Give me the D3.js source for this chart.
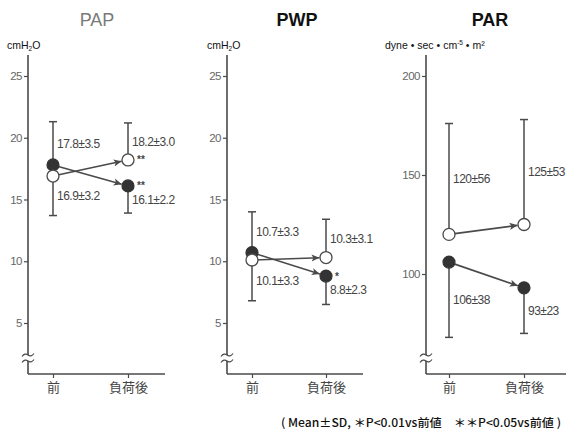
<!DOCTYPE html>
<html><head><meta charset="utf-8">
<script src="https://cdn.jsdelivr.net/npm/d3@7"></script>
<style>
body{margin:0;background:#fff;}
svg{display:block;}
</style></head>
<body>
<svg id="c" width="566" height="440"></svg>
<script>
const categories = ["前", "負荷後"];
const papFilled = [17.8, 16.1], papFilledSD = [3.5, 2.2];
const papOpen = [16.9, 18.2], papOpenSD = [3.2, 3.0];
const pwpFilled = [10.7, 8.8], pwpFilledSD = [3.3, 2.3];
const pwpOpen = [10.1, 10.3], pwpOpenSD = [3.3, 3.1];
const parFilled = [106, 93], parFilledSD = [38, 23];
const parOpen = [120, 125], parOpenSD = [56, 53];
const pressureTicks = [5, 10, 15, 20, 25];
const parTicks = [100, 150, 200];
const papFilledSig = ["", "**"], papOpenSig = ["", "**"];
const pwpFilledSig = ["", "*"], pwpOpenSig = ["", ""];
const parFilledSig = ["", ""], parOpenSig = ["", ""];

const svg = d3.select("#c");
const gray = "#4a4a4a";
const numFont = "'Liberation Sans',Arial,sans-serif";
const cjk = "'Noto Sans CJK JP',sans-serif";

const panels = [
  {title:"PAP", titleColor:"#7a7a7a", titleWeight:"normal", tx:97, unit:"cmH", unitSub:"2", unitTail:"O", ux:7, uSize:10.5,
   ax:28, cx:[53,128], xEnd:165, domain:[0.87,26.7], ticks:pressureTicks,
   filled:papFilled, fsd:papFilledSD, open:papOpen, osd:papOpenSD, fsig:papFilledSig, osig:papOpenSig, fmt:d3.format(".1f")},
  {title:"PWP", titleColor:"#111", titleWeight:"bold", tx:297, unit:"cmH", unitSub:"2", unitTail:"O", ux:207, uSize:10.5,
   ax:227, cx:[252,326], xEnd:363, domain:[0.87,26.7], ticks:pressureTicks,
   filled:pwpFilled, fsd:pwpFilledSD, open:pwpOpen, osd:pwpOpenSD, fsig:pwpFilledSig, osig:pwpOpenSig, fmt:d3.format(".1f")},
  {title:"PAR", titleColor:"#111", titleWeight:"bold", tx:490, unit:"dyne • sec • cm", unitSup:"-5", unitTail:" • m²", ux:385, uSize:10.5,
   ax:426, cx:[449,524], xEnd:570, domain:[49.5,210.6], ticks:parTicks,
   filled:parFilled, fsd:parFilledSD, open:parOpen, osd:parOpenSD, fsig:parFilledSig, osig:parOpenSig, fmt:d3.format("d")}
];

const defs = svg.append("defs");
defs.append("marker").attr("id","arr").attr("viewBox","0 0 10 10").attr("refX",10).attr("refY",5)
  .attr("markerWidth",8).attr("markerHeight",8).attr("markerUnits","userSpaceOnUse").attr("orient","auto")
  .append("path").attr("d","M0,0.5 L10,5 L0,9.5 L2.5,5 Z").attr("fill",gray);

const yTop = 55, yBot = 374, R = 6;

function label(g, xx, yy, txt) {
  g.append("text").attr("x",xx).attr("y",yy).attr("dy","0.35em")
    .attr("font-family",numFont).attr("font-size",12).attr("letter-spacing",-0.5).attr("fill","#444").text(txt);
}

panels.forEach(p => {
  const g = svg.append("g");
  const y = d3.scaleLinear().domain(p.domain).range([yBot, yTop]);
  const x = d3.scalePoint().domain(categories).range(p.cx);

  g.append("text").attr("x",p.tx).attr("y",26).attr("text-anchor","middle")
    .attr("font-family","'Liberation Sans',Arial,sans-serif").attr("font-size",18)
    .attr("font-weight",p.titleWeight).attr("fill",p.titleColor).text(p.title);

  const u = g.append("text").attr("x",p.ux).attr("y",49).attr("font-family","'Liberation Sans',Arial,sans-serif")
    .attr("font-size",p.uSize).attr("fill","#111").attr("xml:space","preserve");
  u.append("tspan").text(p.unit);
  if (p.unitSub) u.append("tspan").attr("font-size",6.5).attr("dy",2).text(p.unitSub);
  if (p.unitSup) u.append("tspan").attr("font-size",6.5).attr("dy",-4).text(p.unitSup);
  u.append("tspan").attr("dy", p.unitSub ? -2 : 4).text(p.unitTail);

  const yAxis = d3.axisLeft(y).tickValues(p.ticks).tickSize(4).tickSizeOuter(0);
  const ya = g.append("g").attr("transform",`translate(${p.ax},0)`).call(yAxis);
  ya.select(".domain").remove();
  ya.selectAll(".tick line").attr("stroke",gray).attr("stroke-width",1.2);
  ya.selectAll(".tick text").attr("font-family",numFont).attr("font-size",11.5).attr("letter-spacing",-0.5).attr("fill","#666").attr("dx",1);
  g.append("line").attr("x1",p.ax).attr("x2",p.ax).attr("y1",yTop).attr("y2",yBot)
    .attr("stroke",gray).attr("stroke-width",1.6);

  g.append("rect").attr("x",p.ax-2).attr("y",355).attr("width",4).attr("height",6).attr("fill","#fff");
  [355, 361].forEach(by => {
    g.append("path").attr("d",`M${p.ax-6},${by+1.5} q3,-4 6,-1.5 t6,-1.5`)
      .attr("fill","none").attr("stroke",gray).attr("stroke-width",1.2);
  });

  const xAxis = d3.axisBottom(x).tickSize(4).tickSizeOuter(0);
  const xa = g.append("g").attr("transform",`translate(0,${yBot})`).call(xAxis);
  xa.select(".domain").remove();
  xa.selectAll(".tick line").attr("stroke",gray).attr("stroke-width",1.2);
  xa.selectAll(".tick text").attr("font-family",cjk).attr("font-size",13).attr("fill","#444").attr("dy","0.85em");
  g.append("line").attr("x1",p.ax).attr("x2",p.xEnd).attr("y1",yBot).attr("y2",yBot)
    .attr("stroke",gray).attr("stroke-width",1.6);

  categories.forEach((c, i) => {
    const fHigh = p.filled[i] >= p.open[i];
    const hi = fHigh ? {m:p.filled[i], sd:p.fsd[i]} : {m:p.open[i], sd:p.osd[i]};
    const lo = fHigh ? {m:p.open[i], sd:p.osd[i]} : {m:p.filled[i], sd:p.fsd[i]};
    const cx = x(c);
    const top = hi.m + hi.sd, bot = lo.m - lo.sd;
    g.append("line").attr("x1",cx).attr("x2",cx).attr("y1",y(hi.m)).attr("y2",y(top))
      .attr("stroke",gray).attr("stroke-width",1.5);
    g.append("line").attr("x1",cx).attr("x2",cx).attr("y1",y(lo.m)).attr("y2",y(bot))
      .attr("stroke",gray).attr("stroke-width",1.5);
    [top, bot].forEach(v => g.append("line").attr("x1",cx-4).attr("x2",cx+4).attr("y1",y(v)).attr("y2",y(v))
      .attr("stroke",gray).attr("stroke-width",1.5));
    label(g, cx+4, y((hi.m+top)/2), `${p.fmt(hi.m)}±${p.fmt(hi.sd)}`);
    label(g, cx+4, y((lo.m+bot)/2), `${p.fmt(lo.m)}±${p.fmt(lo.sd)}`);
  });

  [p.open, p.filled].forEach(vals => {
    const x1 = x(categories[0]), y1 = y(vals[0]), x2 = x(categories[1]), y2 = y(vals[1]);
    const L = Math.hypot(x2-x1, y2-y1);
    const ex = x2 - (x2-x1)/L*(R+0.5), ey = y2 - (y2-y1)/L*(R+0.5);
    g.append("line").attr("x1",x1).attr("y1",y1).attr("x2",ex).attr("y2",ey)
      .attr("stroke",gray).attr("stroke-width",1.6).attr("marker-end","url(#arr)");
  });

  categories.forEach((c, i) => {
    g.append("circle").attr("cx",x(c)).attr("cy",y(p.filled[i])).attr("r",R)
      .attr("fill","#333").attr("stroke","#333").attr("stroke-width",1.2);
    g.append("circle").attr("cx",x(c)).attr("cy",y(p.open[i])).attr("r",R)
      .attr("fill","#fff").attr("stroke",gray).attr("stroke-width",1.3);
  });

  categories.forEach((c, i) => {
    [[p.fsig[i], p.filled[i]], [p.osig[i], p.open[i]]].forEach(([s, v]) => {
      if (s) g.append("text").attr("x",x(c)+R+3).attr("y",y(v)).attr("dy","0.35em")
        .attr("font-family",numFont).attr("font-size",10).attr("font-weight","bold").attr("fill","#444").text(s);
    });
  });
});

svg.append("text").attr("x",281).attr("y",427).attr("font-family",cjk).attr("font-size",11.5)
  .attr("font-weight",500).attr("fill","#111").attr("xml:space","preserve")
  .attr("textLength",280).attr("lengthAdjust","spacingAndGlyphs")
  .text("( Mean±SD, ＊P<0.01vs前値　＊＊P<0.05vs前値 )");
</script>
</body></html>
